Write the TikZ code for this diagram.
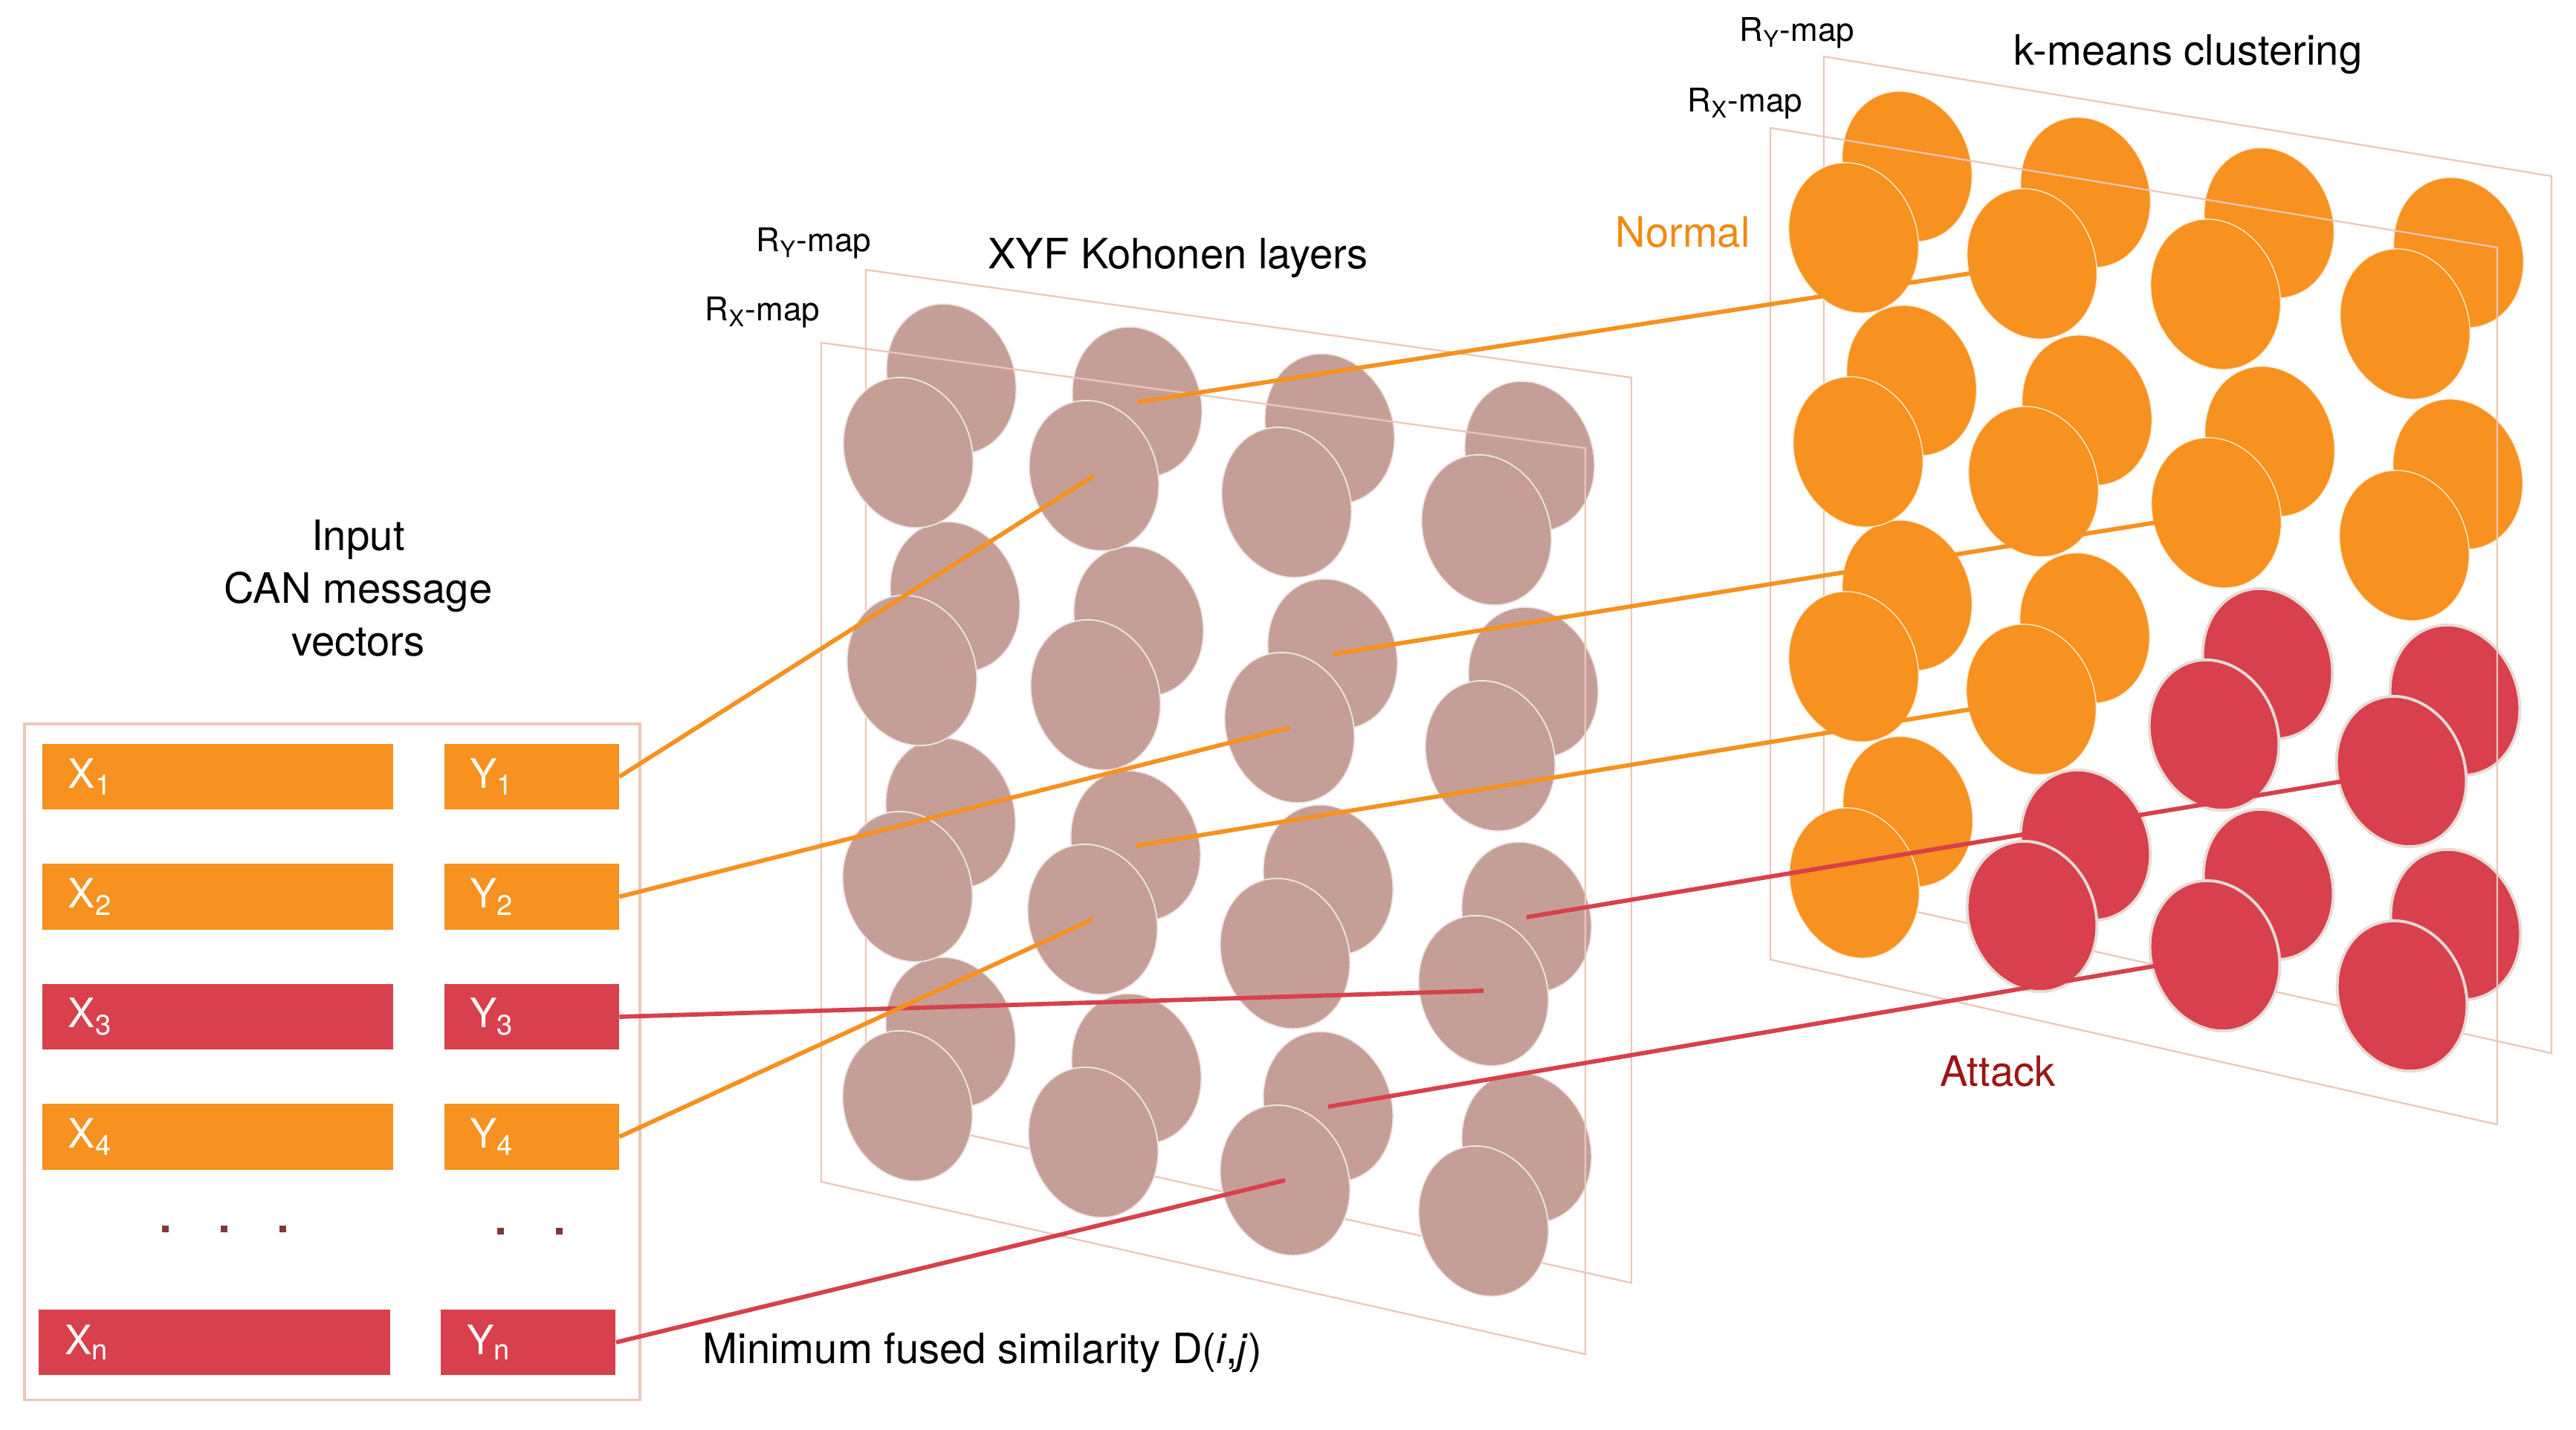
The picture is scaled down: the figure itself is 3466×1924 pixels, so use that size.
\documentclass[tikz,border=0pt]{standalone}
\usepackage{fontspec}
\setmainfont{TeX Gyre Heros}
\usetikzlibrary{positioning}

\definecolor{barorange}{HTML}{F7911F}
\definecolor{barred}{HTML}{D7404C}
\definecolor{kohbrown}{HTML}{C59F97}
\definecolor{planeline}{HTML}{EBC7BA}
\definecolor{dotbrown}{HTML}{7C3A38}
\definecolor{normaltext}{HTML}{F08A12}
\definecolor{attacktext}{HTML}{9C1515}
\definecolor{rededge}{HTML}{E6DCD5}

\tikzset{
  bar/.style={rectangle, minimum height=8.8mm, inner xsep=3.5mm, inner ysep=0pt,
    text=white, align=left, font=\fontsize{15.5}{18}\selectfont},
  xbar/.style={bar, text width=40.2mm},
  ybar/.style={bar, text width=16.5mm},
  plane/.style={draw=planeline, line width=0.65pt},
  link/.style={draw=#1, line width=1.65pt},
  kohdisk/.style={fill=kohbrown, draw=white!75!kohbrown, line width=0.5pt},
  normdisk/.style={fill=barorange, draw=white!80!barorange, line width=0.4pt},
  attackdisk/.style={fill=barred, draw=rededge, line width=1.1pt},
  title/.style={font=\fontsize{16}{20.2}\selectfont, align=center},
  maplabel/.style={font=\fontsize{12.5}{15}\selectfont},
}

% one tilted disk of a map
\newcommand{\somdisk}[2]{\path[#2, rotate around={20:(#1)}] (#1) ellipse [x radius=8.5mm, y radius=10.3mm];}

% row/column/x/y of the front disks
\newcommand{\kohcells}{1/1/1222/609, 1/2/1472/640, 1/3/1731/676, 1/4/2000/713,
  2/1/1227/902, 2/2/1474/935, 2/3/1735/979, 2/4/2005/1017,
  3/1/1221/1193, 3/2/1470/1237, 3/3/1729/1283, 3/4/1996/1333,
  4/1/1221/1488, 4/2/1471/1537, 4/3/1729/1588, 4/4/1996/1643}
\newcommand{\kmcells}{1/1/2494/320/normdisk, 1/2/2734/355/normdisk, 1/3/2981/396/normdisk, 1/4/3236/436/normdisk,
  2/1/2500/608/normdisk, 2/2/2736/648/normdisk, 2/3/2982/690/normdisk, 2/4/3235/734/normdisk,
  3/1/2494/897/normdisk, 3/2/2733/941/normdisk, 3/3/2979/989/attackdisk, 3/4/3231/1038/attackdisk,
  4/1/2495/1188/normdisk, 4/2/2734/1233/attackdisk, 4/3/2980/1286/attackdisk, 4/4/3232/1340/attackdisk}

\begin{document}
\begin{tikzpicture}[x=0.01cm, y=-0.01cm, node distance=7.2mm]
\useasboundingbox (0,0) rectangle (3466,1924);

% input vectors
\node[draw=planeline, line width=1pt, minimum width=82.8mm, minimum height=90.9mm] (inbox) at (447,1428.5) {};
\node[xbar, fill=barorange] (x1) at (293,1045) {X\textsubscript{1}};
\node[xbar, fill=barorange, below=of x1] (x2) {X\textsubscript{2}};
\node[xbar, fill=barred, below=of x2] (x3) {X\textsubscript{3}};
\node[xbar, fill=barorange, below=of x3] (x4) {X\textsubscript{4}};
\node[xbar, fill=barred] (xn) at (288.5,1806) {X\textsubscript{n}};
\node[ybar, fill=barorange, right=6.7mm of x1] (y1) {Y\textsubscript{1}};
\node[ybar, fill=barorange, right=6.7mm of x2] (y2) {Y\textsubscript{2}};
\node[ybar, fill=barred, right=6.7mm of x3] (y3) {Y\textsubscript{3}};
\node[ybar, fill=barorange, right=6.7mm of x4] (y4) {Y\textsubscript{4}};
\node[ybar, fill=barred, right=6.7mm of xn] (yn) {Y\textsubscript{n}};
\foreach \dx in {222,301,380} \fill[dotbrown] (\dx-4.5,1648.5) rectangle +(9,9);
\foreach \dx in {673,752} \fill[dotbrown] (\dx-4.5,1651.5) rectangle +(9,9);

% disk centres
\foreach \r/\c/\x/\y in \kohcells {
  \coordinate (kf-\r-\c) at (\x,\y);
  \coordinate (kb-\r-\c) at (\x+58,\y-99);
}
\foreach \r/\c/\x/\y/\s in \kmcells {
  \coordinate (mf-\r-\c) at (\x,\y);
  \coordinate (mb-\r-\c) at (\x+72,\y-96);
}

% R_Y maps (back)
\draw[plane] (1165,363) -- (2195,508) -- (2195,1726) -- (1165,1496) -- cycle;
\draw[plane] (2454,76) -- (3433,237) -- (3433,1417) -- (2454,1199) -- cycle;
\foreach \r/\c/\x/\y in \kohcells {\somdisk{kb-\r-\c}{kohdisk}}
\foreach \r/\c/\x/\y/\s in \kmcells {\somdisk{mb-\r-\c}{\s}}

% R_X maps (front)
\draw[plane] (1105,461) -- (2133,603) -- (2133,1822) -- (1105,1590) -- cycle;
\draw[plane] (2382,172) -- (3360,333) -- (3360,1513) -- (2382,1291) -- cycle;
\foreach \r/\c/\x/\y in \kohcells {\somdisk{kf-\r-\c}{kohdisk}}
\foreach \r/\c/\x/\y/\s in \kmcells {\somdisk{mf-\r-\c}{\s}}

% best matching units
\draw[link=barorange] (y1.east) -- (kf-1-2);
\draw[link=barorange] (y2.east) -- (kf-2-3);
\draw[link=barred] (y3.east) -- (kf-3-4);
\draw[link=barorange] (y4.east) -- (kf-3-2);
\draw[link=barred] (yn.east) -- (kf-4-3);
\draw[link=barorange] (kb-1-2) -- (mf-1-2);
\draw[link=barorange] (kb-2-3) -- (mf-2-3);
\draw[link=barorange] (kb-3-2) -- (mf-3-2);
\draw[link=barred] (kb-3-4) -- (mf-3-4);
\draw[link=barred] (kb-4-3) -- (mf-4-3);

% labels
\node[title] (inputlabel) at (482,791) {Input\\CAN message\\vectors};
\node[title] (kohtitle) at (1585,347) {XYF Kohonen layers};
\node[title] (kmtitle) at (2944,73) {k-means clustering};
\node[maplabel] (kohry) at (1095,327) {R\textsubscript{Y}-map};
\node[maplabel] (kohrx) at (1026,420) {R\textsubscript{X}-map};
\node[maplabel] (kmry) at (2418,44) {R\textsubscript{Y}-map};
\node[maplabel] (kmrx) at (2348,139) {R\textsubscript{X}-map};
\node[title, text=normaltext] (normal) at (2264,312) {Normal};
\node[title, text=attacktext] (attack) at (2688,1441) {Attack};
\node[title] (simlabel) at (1322,1820) {Minimum fused similarity D(\textit{i},\textit{j})};
\end{tikzpicture}
\end{document}
